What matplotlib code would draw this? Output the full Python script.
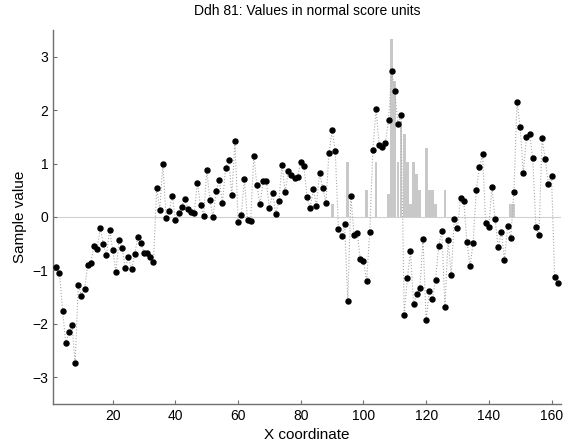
import numpy as np
import matplotlib.pyplot as plt

plt.rcParams['font.family'] = ['Liberation Sans', 'DejaVu Sans']

# sample values along the hole (x = 2..162)
x_pos = np.arange(2, 163)
values = [
    -0.94, -1.05, -1.75, -2.36, -2.16, -2.02, -2.74, -1.27, -1.47, -1.35,
    -0.90, -0.87, -0.54, -0.60, -0.21, -0.50, -0.72, -0.24, -0.62, -1.03,
    -0.44, -0.58, -0.96, -0.75, -0.98, -0.70, -0.38, -0.49, -0.68, -0.67,
    -0.74, -0.85, 0.55, 0.13, 1.00, -0.01, 0.11, 0.40, -0.06, 0.07,
    0.19, 0.34, 0.15, 0.10, 0.08, 0.64, 0.22, 0.02, 0.88, 0.32,
    0.00, 0.49, 0.69, 0.26, 0.91, 1.06, 0.42, 1.42, -0.10, 0.04,
    0.71, -0.06, -0.08, 1.15, 0.59, 0.24, 0.68, 0.67, 0.16, 0.44,
    0.06, 0.29, 0.98, 0.46, 0.86, 0.78, 0.73, 0.75, 1.03, 0.95,
    0.37, 0.17, 0.52, 0.21, 0.83, 0.54, 0.27, 1.20, 1.62, 1.24,
    -0.22, -0.36, -0.14, -1.57, 0.39, -0.34, -0.30, -0.79, -0.82, -1.20,
    -0.29, 1.26, 2.02, 1.35, 1.30, 1.38, 1.82, 2.73, 2.35, 1.74,
    1.91, -1.83, -1.15, -0.64, -1.63, -1.44, -1.32, -0.42, -1.93, -1.39,
    -1.53, -1.18, -0.54, -0.26, -1.69, -0.43, -1.09, -0.03, -0.20, 0.36,
    0.30, -0.46, -0.92, -0.48, 0.51, 0.93, 1.17, -0.12, -0.18, 0.57,
    -0.04, -0.57, -0.28, -0.80, -0.16, -0.39, 0.47, 2.16, 1.68, 0.82,
    1.50, 1.56, 1.11, -0.18, -0.33, 1.47, 1.08, 0.62, 0.77, -1.13,
    -1.24,
]

# gray bars
bar_x = [90, 95, 101, 104, 108, 109, 110, 111, 112, 113, 114, 115, 116,
         117, 118, 120, 121, 122, 123, 126, 147, 148]
bar_h = [0.24, 1.02, 0.50, 1.02, 0.43, 3.33, 2.55, 1.02, 1.80, 1.55, 1.02,
         0.24, 1.02, 0.80, 0.50, 1.29, 0.50, 0.50, 0.24, 0.50, 0.25, 0.25]

fig = plt.figure(figsize=(5.66, 4.46), dpi=100)
ax = fig.add_axes([0.094, 0.094, 0.897, 0.839])

ax.bar(bar_x, bar_h, width=0.9, color='#c8c8c8', edgecolor='none', zorder=1)
ax.axhline(0, color='#d0d0d0', lw=0.8, zorder=0)
ax.plot(x_pos, values, ':', color='#a8a8a8', lw=0.8, zorder=2)
ax.plot(x_pos, values, 'o', color='black', ms=3.6, zorder=3)

ax.set_xlim(1, 163)
ax.set_ylim(-3.5, 3.5)
ax.set_xticks(range(20, 161, 20))
ax.set_yticks(range(-3, 4))

for s in ['top', 'right']:
    ax.spines[s].set_visible(False)
for s in ['left', 'bottom']:
    ax.spines[s].set_color('#707070')
    ax.spines[s].set_linewidth(1.0)
ax.tick_params(direction='in', length=3, color='#707070', labelsize=10)

ax.set_title('Ddh 81: Values in normal score units', fontsize=10, pad=11)
ax.set_xlabel('X coordinate', fontsize=11, labelpad=4)
ax.set_ylabel('Sample value', fontsize=11, labelpad=4)

fig.savefig('out.png', dpi=100)
